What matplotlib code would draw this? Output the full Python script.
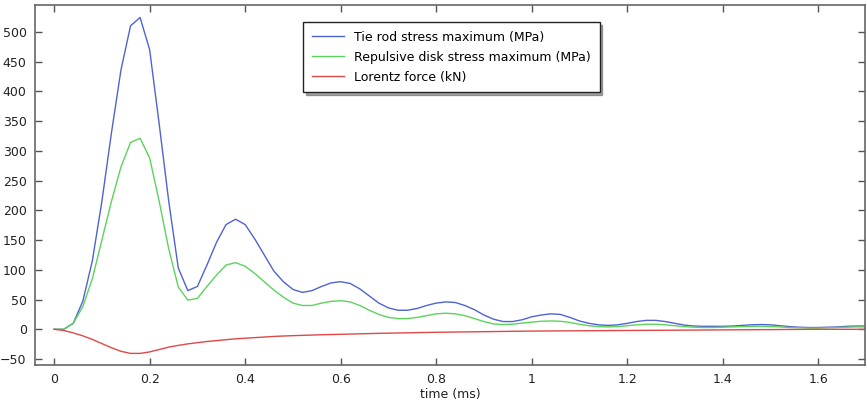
import numpy as np
import matplotlib
matplotlib.use("Agg")
import matplotlib.pyplot as plt

# time samples (ms), every 0.02 ms
time_ms = np.round(np.arange(0, 1.7001, 0.02), 2)

tie_rod = [0, 0, 10, 47, 115, 215, 330, 436, 510, 524,
           470, 345, 215, 103, 65, 72, 108, 146, 176, 185,
           176, 152, 125, 98, 80, 67, 62, 65, 72, 78,
           80, 77, 68, 56, 44, 36, 32, 32, 35, 40,
           44, 46, 45, 40, 33, 24, 17, 13, 13, 16,
           21, 24, 26, 25, 20, 14, 10, 7.5, 6.5, 7.5,
           10, 13, 15, 15, 13, 10, 7, 5.5, 5, 5,
           5, 5.5, 6.5, 7.5, 8, 7.5, 6, 4.5, 3.5, 3,
           3, 3.5, 4, 5, 5.5, 5.5]

disk = [0, 0, 10, 38, 85, 150, 215, 273, 314, 321,
        288, 215, 135, 71, 49, 52, 72, 91, 108, 112,
        106, 94, 80, 66, 54, 44, 40, 40, 44, 47,
        48, 46, 40, 32, 25, 20, 18, 18, 20, 23,
        26, 27, 26, 23, 18, 13, 9, 8, 8.5, 10.5,
        12, 13.5, 14, 13.5, 11.5, 8.5, 6, 4.5, 4, 4.5,
        6, 7.5, 8.5, 8.5, 7.5, 6, 4.5, 3.5, 3, 3,
        3.5, 4, 4.5, 5, 5, 4.5, 4, 3, 2.5, 2,
        2, 2.5, 3, 3.5, 4, 4]

lorentz = [0, -2, -6, -11, -17, -24, -31, -37, -40.5, -40.5,
           -38, -34, -30, -27, -24.5, -22.5, -20.5, -19, -17.5, -16,
           -15, -14, -13, -12, -11.3, -10.7, -10.2, -9.7, -9.2, -8.8,
           -8.4, -8, -7.6, -7.2, -6.8, -6.5, -6.2, -5.9, -5.6, -5.3,
           -5, -4.8, -4.6, -4.4, -4.2, -4, -3.8, -3.6, -3.4, -3.2,
           -3, -2.9, -2.8, -2.7, -2.6, -2.5, -2.4, -2.3, -2.2, -2.1,
           -2, -1.9, -1.8, -1.7, -1.6, -1.5, -1.4, -1.3, -1.2, -1.1,
           -1, -0.9, -0.8, -0.7, -0.6, -0.5, -0.4, -0.3, -0.2, -0.1,
           0, 0, 0, 0, 0, 0]

x_ticks = [0, 0.2, 0.4, 0.6, 0.8, 1.0, 1.2, 1.4, 1.6]
x_labels = ["0", "0.2", "0.4", "0.6", "0.8", "1", "1.2", "1.4", "1.6"]
y_ticks = list(range(-50, 501, 50))

fig = plt.figure(figsize=(8.67, 4.03), dpi=100)
ax = fig.add_axes([0.0404, 0.0943, 0.9573, 0.8933])

ax.plot(time_ms, tie_rod, color="#4f63d2", lw=1.0,
        label="Tie rod stress maximum (MPa)")
ax.plot(time_ms, disk, color="#5cd35c", lw=1.0,
        label="Repulsive disk stress maximum (MPa)")
ax.plot(time_ms, lorentz, color="#e04848", lw=1.0,
        label="Lorentz force (kN)")

ax.set_xlim(-0.04, 1.698)
ax.set_ylim(-60, 545)
ax.set_xticks(x_ticks)
ax.set_xticklabels(x_labels)
ax.set_yticks(y_ticks)
ax.tick_params(direction="in", length=5, width=1, top=True, right=True,
               labelsize=9, colors="#555555", labelcolor="#222222", pad=6)
for s in ax.spines.values():
    s.set_color("#666666")
    s.set_linewidth(1.2)

ax.set_xlabel("time (ms)", fontsize=9, color="#222222", labelpad=1)

leg = ax.legend(loc="upper center", bbox_to_anchor=(0.5015, 0.97),
                fontsize=9, frameon=True, fancybox=False, shadow=True,
                edgecolor="#222222", framealpha=1, borderpad=0.7,
                handlelength=2.6, labelspacing=0.55)
leg.get_frame().set_linewidth(1.0)

fig.savefig("out.png", dpi=100)
